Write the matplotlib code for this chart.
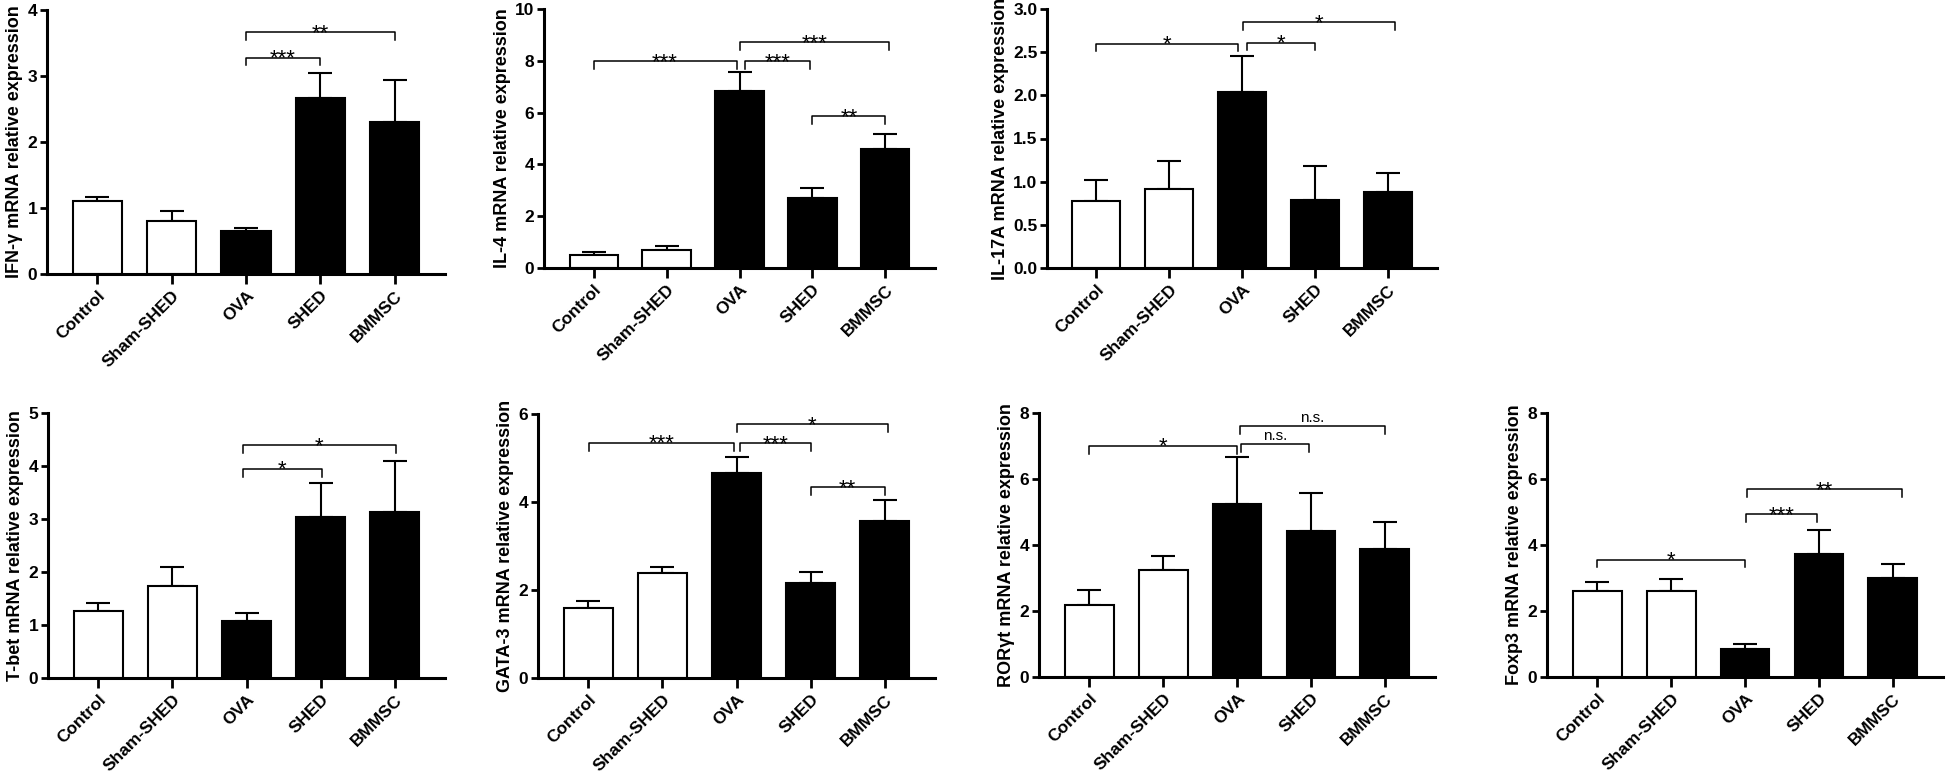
import matplotlib
matplotlib.use('Agg')
import matplotlib.pyplot as plt

plt.rcParams['font.family'] = ['Liberation Sans', 'DejaVu Sans']

groups = ['Control', 'Sham-SHED', 'OVA', 'SHED', 'BMMSC']
filled = [False, False, True, True, True]

# mean values and upper SEM
ifng_mean = [1.10, 0.81, 0.65, 2.67, 2.31]
ifng_err = [0.06, 0.14, 0.04, 0.37, 0.63]
il4_mean = [0.52, 0.71, 6.85, 2.72, 4.59]
il4_err = [0.10, 0.13, 0.71, 0.38, 0.60]
il17_mean = [0.78, 0.91, 2.04, 0.79, 0.88]
il17_err = [0.24, 0.33, 0.42, 0.39, 0.22]
tbet_mean = [1.27, 1.74, 1.07, 3.04, 3.13]
tbet_err = [0.14, 0.35, 0.16, 0.64, 0.97]
gata3_mean = [1.58, 2.38, 4.65, 2.15, 3.56]
gata3_err = [0.17, 0.15, 0.38, 0.26, 0.48]
rorgt_mean = [2.19, 3.23, 5.25, 4.41, 3.87]
rorgt_err = [0.44, 0.45, 1.43, 1.17, 0.82]
foxp3_mean = [2.60, 2.60, 0.85, 3.73, 3.01]
foxp3_err = [0.28, 0.36, 0.16, 0.73, 0.40]

# significance brackets: (from, to, height, label)
ifng_sig = [(2.0, 3.0, 3.28, '***'), (2.0, 4.0, 3.66, '**')]
il4_sig = [(0.0, 1.96, 8.0, '***'), (2.07, 2.97, 8.0, '***'),
           (2.0, 4.05, 8.71, '***'), (3.0, 4.0, 5.87, '**')]
il17_sig = [(0.0, 1.94, 2.60, '*'), (2.07, 3.0, 2.61, '*'), (2.02, 4.1, 2.85, '*')]
tbet_sig = [(1.95, 3.02, 3.95, '*'), (1.95, 4.02, 4.40, '*')]
gata3_sig = [(0.01, 1.96, 5.35, '***'), (2.05, 3.01, 5.33, '***'),
             (2.0, 4.04, 5.77, '*'), (3.0, 4.0, 4.33, '**')]
rorgt_sig = [(0.0, 2.0, 7.01, '*'), (2.06, 2.98, 7.06, 'n.s.'), (2.04, 4.0, 7.60, 'n.s.')]
foxp3_sig = [(0.0, 2.0, 3.56, '*'), (2.02, 2.97, 4.94, '***'), (2.03, 4.12, 5.69, '**')]

W, H = 1946, 778
fig = plt.figure(figsize=(W / 100, H / 100), dpi=100)


def panel(px, means, errs, ymax, yticks, ylabel, sig, ticklabels=None):
    left, top, right, bottom = px
    ax = fig.add_axes([left / W, 1 - bottom / H, (right - left) / W, (bottom - top) / H])
    x = list(range(len(groups)))
    colors = ['black' if f else 'white' for f in filled]
    ax.errorbar(x, means, yerr=[[0] * len(means), errs], fmt='none', ecolor='black',
                elinewidth=1.5, capsize=8.5, capthick=1.5, zorder=1)
    ax.bar(x, means, width=0.66, color=colors, edgecolor='black', linewidth=1.5, zorder=2)

    ax.set_xlim(-0.68, 4.68)
    ax.set_ylim(0, ymax)
    ax.set_yticks(yticks)
    ax.set_yticklabels(ticklabels or yticks, fontsize=12.5, fontweight='bold')
    ax.set_xticks(x)
    ax.set_xticklabels(groups, rotation=45, ha='right', va='top', rotation_mode='anchor',
                       fontsize=12.5, fontweight='bold')
    ax.tick_params(axis='y', length=5, width=2, pad=2)
    ax.tick_params(axis='x', length=7, width=2, pad=3)
    for s in ['top', 'right']:
        ax.spines[s].set_visible(False)
    for s in ['left', 'bottom']:
        ax.spines[s].set_linewidth(2.2)
    ax.set_ylabel(ylabel, fontsize=13, fontweight='bold', labelpad=3)

    drop = 0.03 * ymax
    for x1, x2, y, lab in sig:
        ax.plot([x1, x1, x2, x2], [y - drop, y, y, y - drop], color='black', lw=1.1,
                clip_on=False, zorder=3)
        if lab == 'n.s.':
            ax.annotate(lab, ((x1 + x2) / 2, y), xytext=(0, 3), textcoords='offset points',
                        ha='center', va='baseline', fontsize=11)
        else:
            ax.annotate(lab, ((x1 + x2) / 2, y), xytext=(0, -5), textcoords='offset points',
                        ha='center', va='baseline', fontsize=16)
    return ax


panel((47, 10, 445, 274), ifng_mean, ifng_err, 4, [0, 1, 2, 3, 4],
      'IFN-γ mRNA relative expression', ifng_sig)
panel((544, 9, 935, 268), il4_mean, il4_err, 10, [0, 2, 4, 6, 8, 10],
      'IL-4 mRNA relative expression', il4_sig)
panel((1047, 9, 1437, 268), il17_mean, il17_err, 3.0, [0, 0.5, 1.0, 1.5, 2.0, 2.5, 3.0],
      'IL-17A mRNA relative expression', il17_sig,
      ['0.0', '0.5', '1.0', '1.5', '2.0', '2.5', '3.0'])
panel((48, 413, 445, 678), tbet_mean, tbet_err, 5, [0, 1, 2, 3, 4, 5],
      'T-bet mRNA relative expression', tbet_sig)
panel((538, 414, 935, 678), gata3_mean, gata3_err, 6, [0, 2, 4, 6],
      'GATA-3 mRNA relative expression', gata3_sig)
panel((1039, 413, 1435, 677), rorgt_mean, rorgt_err, 8, [0, 2, 4, 6, 8],
      'RORγt mRNA relative expression', rorgt_sig)
panel((1547, 413, 1943, 677), foxp3_mean, foxp3_err, 8, [0, 2, 4, 6, 8],
      'Foxp3 mRNA relative expression', foxp3_sig)

fig.savefig('out.png', dpi=100)
